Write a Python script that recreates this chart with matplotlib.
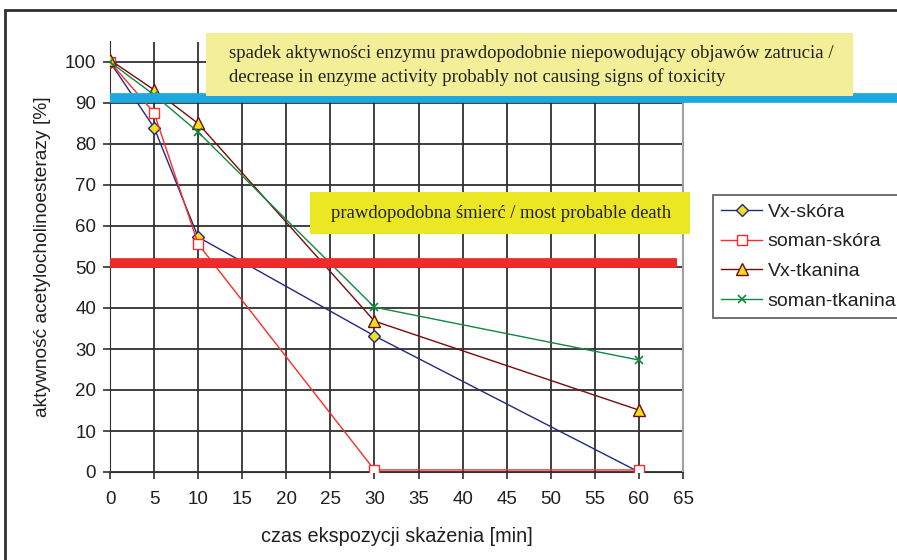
import numpy as np
import matplotlib.pyplot as plt
from matplotlib.patches import Rectangle

plt.rcParams['font.family'] = ['Liberation Sans', 'DejaVu Sans']

# dane
czas = [0, 5, 10, 30, 60]
vx_skora = [100, 84, 57.3, 33.2, 0]
soman_skora = [100, 87.6, 55.6, 0.5, 0.5]
vx_tkanina = [100.5, 93.2, 85, 36.8, 15.1]
soman_tkanina = [100, 92, 82.9, 40.2, 27.3]

prog_niski = 91.1
prog_smierc = 50.9

W, H = 897, 560
fig = plt.figure(figsize=(W / 100, H / 100), dpi=100)
ax = fig.add_axes([110 / W, 1 - 472 / H, (683 - 110) / W, (472 - 41.5) / H])

# ramka calej figury
fig.add_artist(Rectangle((5 / W, -0.1), 1.2, 1 - 10 / H + 0.1, transform=fig.transFigure,
                         fill=False, edgecolor='#303030', linewidth=2.0))

ax.plot(czas, vx_skora, color='#1F2A80', linewidth=1.0, marker='D', markersize=6,
        markerfacecolor='#F0E020', markeredgecolor='#1F2A80', label='Vx-skóra', zorder=5)
ax.plot(czas, soman_skora, color='#FF2A2A', linewidth=1.0, marker='s', markersize=7,
        markerfacecolor='white', markeredgecolor='#FF2A2A', label='soman-skóra', zorder=5)
ax.plot(czas, vx_tkanina, color='#7A0A0A', linewidth=1.0, marker='^', markersize=8,
        markerfacecolor='#F0E020', markeredgecolor='#7A0A0A', label='Vx-tkanina', zorder=5)
ax.plot(czas, soman_tkanina, color='#0E8A40', linewidth=1.0, marker='x', markersize=6,
        markeredgewidth=1.2, label='soman-tkanina', zorder=5)

ax.set_xlim(0, 65)
ax.set_ylim(0, 105)
ax.set_xticks(np.arange(0, 70, 5))
ax.set_yticks(np.arange(0, 110, 10))
ax.grid(True, color='#303030', linewidth=1.3)
ax.set_axisbelow(True)
ax.spines['top'].set_visible(False)
ax.spines['right'].set_color('#A0A0A0')
ax.spines['right'].set_linewidth(1.5)
ax.spines['left'].set_color('#303030')
ax.spines['bottom'].set_color('#303030')
ax.tick_params(direction='out', length=5, width=1.2, color='#303030', labelsize=13.5, labelcolor='#202020')
ax.tick_params(axis='x', pad=9)
ax.tick_params(axis='y', pad=5)
ax.set_xlabel('czas ekspozycji skażenia [min]', fontsize=14.3, color='#202020')
ax.set_ylabel('aktywność acetylocholinoesterazy [%]', fontsize=13.8, color='#202020')
ax.xaxis.label.set_va('center')
ax.yaxis.label.set_va('center')
ax.xaxis.set_label_coords(0.5, (472 - 537) / 430.5)
ax.yaxis.set_label_coords((43 - 110) / 573, 0.5)

# progi
ax.plot([0, 1.4], [prog_niski, prog_niski], transform=ax.get_yaxis_transform(),
        color='#1EA8DF', linewidth=7, solid_capstyle='butt', clip_on=False, zorder=6)
ax.plot([0, (677 - 110) / (683 - 110)], [prog_smierc, prog_smierc], transform=ax.get_yaxis_transform(),
        color='#EE2A2A', linewidth=7, solid_capstyle='butt', clip_on=False, zorder=6)

# ramki z opisami
serif = ['Liberation Serif', 'DejaVu Serif']
fig.add_artist(Rectangle((206 / W, 1 - 96 / H), (853 - 206) / W, (96 - 33) / H,
                         transform=fig.transFigure, facecolor='#F2EF98', edgecolor='none', zorder=7))
fig.text(229 / W, 1 - 53.5 / H, 'spadek aktywności enzymu prawdopodobnie niepowodujący objawów zatrucia /',
         family=serif, fontsize=13.5, color='#202020', va='center', zorder=8)
fig.text(229 / W, 1 - 77 / H, 'decrease in enzyme activity probably not causing signs of toxicity',
         family=serif, fontsize=13.5, color='#202020', va='center', zorder=8)

fig.add_artist(Rectangle((310 / W, 1 - 234 / H), (690 - 310) / W, (234 - 192) / H,
                         transform=fig.transFigure, facecolor='#EBE723', edgecolor='none', zorder=7))
fig.text(501 / W, 1 - 213 / H, 'prawdopodobna śmierć / most probable death',
         family=serif, fontsize=13.4, color='#202020', va='center', ha='center', zorder=8)

leg = fig.legend(loc='upper left', bbox_to_anchor=(713 / W, 1 - 195 / H), fontsize=14,
                 frameon=True, fancybox=False, borderaxespad=0, handlelength=2.1,
                 handletextpad=0.3, labelspacing=0.62, borderpad=0.42)
leg.get_frame().set_edgecolor('#404040')
leg.get_frame().set_linewidth(1.3)
for t in leg.get_texts():
    t.set_color('#202020')

fig.savefig('out.png', dpi=100)
